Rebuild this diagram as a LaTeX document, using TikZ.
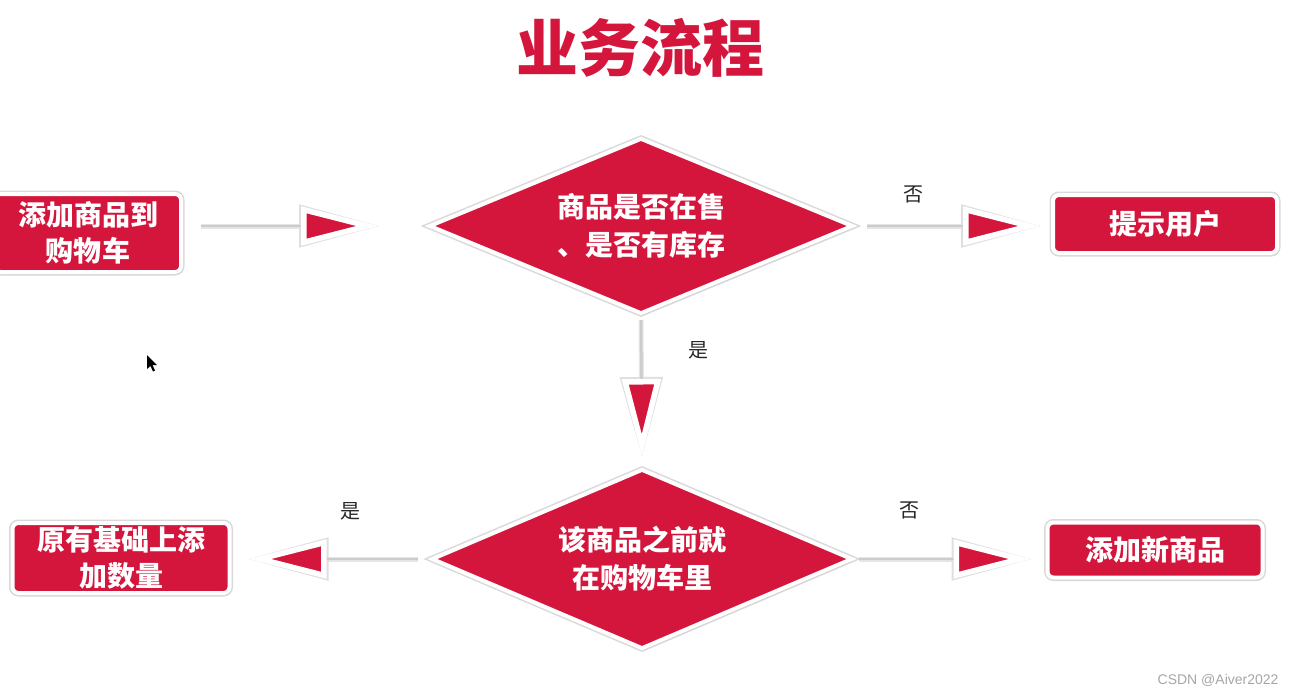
\documentclass[tikz,border=0pt]{standalone}
\usepackage{fontspec}
\newfontfamily\cjk{Noto Sans CJK SC}
\newfontfamily\wmfont{Liberation Sans}
\usetikzlibrary{shapes.geometric,arrows.meta,shadows}
\definecolor{bizred}{RGB}{212,22,60}

\tikzset{
  box/.style={rectangle, rounded corners=6pt, fill=bizred, draw=white, line width=4pt,
    preaction={draw=gray!30, line width=7pt},
    drop shadow={shadow xshift=1pt, shadow yshift=-2pt, opacity=.25},
    text=white, font=\cjk\bfseries\fontsize{28}{36}\selectfont, align=center, inner sep=0pt},
  decision/.style={diamond, aspect=2.4, fill=bizred, draw=white, line width=4pt,
    preaction={draw=gray!30, line width=7pt},
    drop shadow={shadow xshift=1pt, shadow yshift=-2pt, opacity=.25},
    text=white, font=\cjk\bfseries\fontsize{28}{38}\selectfont, align=center, inner sep=0pt},
  flow/.style={draw=gray!40, line width=2.5pt,
    -{Triangle[length=78pt,width=38pt,fill=bizred,color=white,line width=5.5pt]},
    preaction={draw=gray!20, line width=5pt,
      -{Triangle[length=80pt,width=42pt,fill=gray!25,color=gray!25,line width=5.5pt]}}},
  lbl/.style={font=\cjk\fontsize{20}{24}\selectfont, text=black!85, inner sep=0pt},
}

\begin{document}
\begin{tikzpicture}[x=1pt, y=-1pt]
  \useasboundingbox (0,0) rectangle (1295,696);

  % Titolo
  \node[font=\cjk\bfseries\fontsize{62}{62}\selectfont, text=bizred] (title) at (640,48) {业务流程};

  % Blocchi
  \node[box, minimum width=186pt, minimum height=78pt] (cart) at (88,233) {添加商品到\\购物车};
  \node[decision, minimum width=424pt, minimum height=176pt] (onsale) at (641,226) {商品是否在售\\、是否有库存};
  \node[box, minimum width=224pt, minimum height=58pt] (notify) at (1165,224) {提示用户};
  \node[decision, minimum width=421pt, minimum height=180pt] (incart) at (642,559) {该商品之前就\\在购物车里};
  \node[box, minimum width=217pt, minimum height=70pt] (addqty) at (121,558) {原有基础上添\\加数量};
  \node[box, minimum width=215pt, minimum height=55pt] (addnew) at (1155,550) {添加新商品};

  % Frecce
  \draw[flow, shorten <=18pt, shorten >=48pt] (cart.east |- onsale.west) -- (onsale.west);
  \draw[flow, shorten <=12pt, shorten >=10pt] (onsale.east) -- (notify.west |- onsale.east)
    node[lbl, pos=0.3, above=22pt] (no1) {否};
  \draw[flow, shorten <=4pt, shorten >=10pt] (onsale.south) -- (incart.north)
    node[lbl, pos=0.23, right=46pt] (yes1) {是};
  \draw[flow, shorten <=12pt, shorten >=17pt] (incart.west) -- (addqty.east |- incart.west)
    node[lbl, pos=0.4, above=38pt] (yes2) {是};
  \draw[flow, shorten <=4pt, shorten >=14pt] (incart.east) -- (addnew.west |- incart.east)
    node[lbl, pos=0.29, above=39pt] (no2) {否};

  % Puntatore
  \fill[black] (147,355) -- (147,369) -- (150.5,366) -- (153,371.5) -- (155,370.5) -- (152.5,365) -- (157,365) -- cycle;

  % Filigrana
  \node[font=\wmfont\fontsize{14}{14}\selectfont, text=gray!70, anchor=east] (mark) at (1282,680) {CSDN @Aiver2022};
\end{tikzpicture}
\end{document}
